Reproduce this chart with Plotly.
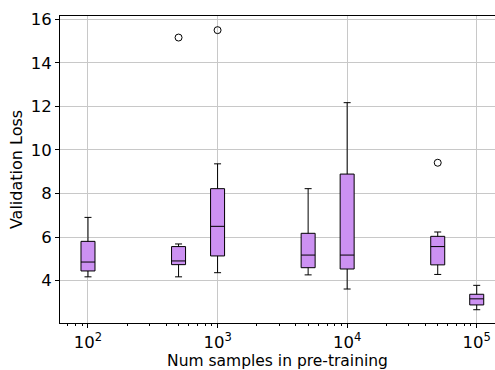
import plotly.graph_objects as go

# Number of pre-training samples for each experiment group
num_samples = [100, 500, 1000, 5000, 10000, 50000, 100000]

# Box statistics of the validation loss per group
lower_whisker = [4.17, 4.17, 4.36, 4.26, 3.61, 4.28, 2.66]
q1 = [4.44, 4.73, 5.13, 4.59, 4.53, 4.72, 2.88]
median = [4.85, 4.90, 6.49, 5.17, 5.17, 5.56, 3.16]
q3 = [5.80, 5.56, 8.22, 6.17, 8.89, 6.03, 3.37]
upper_whisker = [6.90, 5.68, 9.36, 8.22, 12.17, 6.23, 3.78]

# Outlying runs
outlier_samples = [500, 1000, 50000]
outlier_loss = [15.16, 15.50, 9.41]

x_tick_vals = [100, 1000, 10000, 100000]
x_tick_text = ["10<sup>2</sup>", "10<sup>3</sup>", "10<sup>4</sup>", "10<sup>5</sup>"]
y_tick_vals = [4, 6, 8, 10, 12, 14, 16]

minor_ticks = [m * 10 ** e for e in range(1, 6) for m in range(2, 10)]

fig = go.Figure()
fig.add_trace(go.Box(
    x=num_samples,
    q1=q1,
    median=median,
    q3=q3,
    lowerfence=lower_whisker,
    upperfence=upper_whisker,
    width=0.108,
    whiskerwidth=0.5,
    fillcolor="#cc91f2",
    line=dict(color="black", width=1),
    boxpoints=False,
    showlegend=False,
))
fig.add_trace(go.Scatter(
    x=outlier_samples,
    y=outlier_loss,
    mode="markers",
    marker=dict(symbol="circle-open", size=7, color="black", line=dict(width=1)),
    showlegend=False,
))

font = "DejaVu Sans"
fig.update_layout(
    width=495,
    height=370,
    margin=dict(l=60, r=0, t=16, b=47),
    paper_bgcolor="white",
    plot_bgcolor="white",
    font=dict(family=font, color="black"),
)
fig.update_xaxes(
    type="log",
    range=[1.784, 5.141],
    tickmode="array",
    tickvals=x_tick_vals,
    ticktext=x_tick_text,
    tickfont=dict(size=16.5),
    ticks="outside",
    ticklen=4,
    tickwidth=1,
    tickcolor="black",
    showgrid=True,
    gridcolor="#c8c8c8",
    gridwidth=1,
    showline=True,
    linecolor="black",
    linewidth=1,
    mirror=True,
    zeroline=False,
    minor=dict(tickmode="array", tickvals=minor_ticks, ticks="outside",
               ticklen=2, tickwidth=1, tickcolor="black", showgrid=False),
    title=dict(text="Num samples in pre-training", font=dict(size=15.5), standoff=4),
)
fig.update_yaxes(
    range=[2.05, 16.15],
    tickmode="array",
    tickvals=y_tick_vals,
    tickfont=dict(size=16.5),
    ticks="outside",
    ticklen=4,
    tickwidth=1,
    tickcolor="black",
    showgrid=True,
    gridcolor="#c8c8c8",
    gridwidth=1,
    showline=True,
    linecolor="black",
    linewidth=1,
    zeroline=False,
    title=dict(text="Validation Loss", font=dict(size=16), standoff=4),
)

fig.write_html("out.html")
